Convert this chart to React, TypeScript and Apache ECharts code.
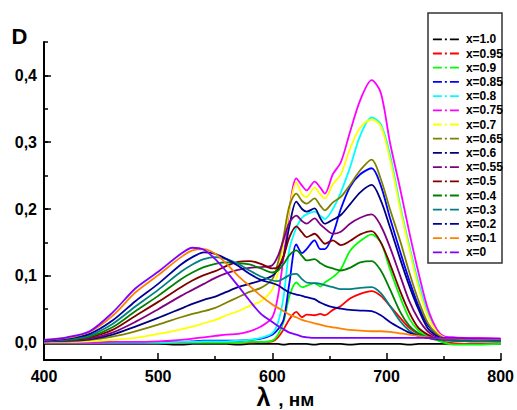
import React, { useEffect, useRef } from 'react';
import * as echarts from 'echarts';

const W = 517;
const H = 410;

// wavelength grid (nm)
const wavelengths = [400, 420, 440, 460, 480, 500, 520, 530, 540, 550, 560, 570, 580, 590, 600, 605, 610, 615, 621, 626, 630, 637, 642, 646, 653, 660, 668, 677, 687, 695, 703, 712, 720, 728, 736, 744, 750, 760, 780, 800];

const seriesNames = ['x=1.0', 'x=0.95', 'x=0.9', 'x=0.85', 'x=0.8', 'x=0.75', 'x=0.7', 'x=0.65', 'x=0.6', 'x=0.55', 'x=0.5', 'x=0.4', 'x=0.3', 'x=0.2', 'x=0.1', 'x=0'];
const seriesColors = ['#000000', '#ff0000', '#00ff00', '#0000ff', '#00ffff', '#ff00ff', '#ffff00', '#808000', '#000080', '#800080', '#800000', '#008000', '#008080', '#0000a0', '#ff8000', '#8000ff'];

const dX100 = [-0.002, -0.002, -0.002, -0.002, -0.002, -0.002, -0.003, -0.002, -0.002, -0.002, -0.002, -0.003, -0.002, -0.002, -0.002, -0.002, -0.003, -0.002, -0.002, -0.002, -0.002, -0.003, -0.002, -0.002, -0.002, -0.002, -0.003, -0.002, -0.002, -0.002, -0.002, -0.002, -0.003, -0.002, -0.002, -0.002, -0.002, -0.002, -0.002, -0.002];
const dX095 = [0, 0, 0, 0, 0, 0, 0, 0, 0, 0, 0, 0, 0, 0.001, 0.002, 0.008, 0.02, 0.035, 0.046, 0.038, 0.042, 0.041, 0.043, 0.041, 0.049, 0.055, 0.066, 0.073, 0.077, 0.07, 0.055, 0.037, 0.022, 0.013, 0.007, 0.004, 0.001, -0.001, -0.002, -0.001];
const dX090 = [0, 0, 0, 0, 0, 0, 0, 0, 0, 0, 0, 0, 0.001, 0.001, 0.003, 0.012, 0.032, 0.07, 0.09, 0.083, 0.085, 0.089, 0.084, 0.09, 0.098, 0.11, 0.137, 0.152, 0.162, 0.15, 0.11, 0.068, 0.036, 0.018, 0.009, 0.004, 0.0, -0.003, -0.003, -0.002];
const dX085 = [0, 0, 0, 0, 0, 0.001, 0.001, 0.002, 0.003, 0.003, 0.003, 0.003, 0.004, 0.006, 0.012, 0.02, 0.035, 0.09, 0.147, 0.134, 0.14, 0.153, 0.14, 0.14, 0.162, 0.2, 0.233, 0.252, 0.261, 0.235, 0.187, 0.136, 0.093, 0.055, 0.027, 0.012, 0.006, 0.003, 0.002, 0.002];
const dX080 = [0, 0, 0, 0, 0, 0, 0.001, 0.001, 0.002, 0.002, 0.002, 0.003, 0.004, 0.007, 0.014, 0.03, 0.07, 0.14, 0.172, 0.187, 0.192, 0.196, 0.19, 0.185, 0.2, 0.225, 0.262, 0.31, 0.337, 0.327, 0.282, 0.205, 0.145, 0.09, 0.045, 0.018, 0.008, 0.004, 0.003, 0.002];
const dX075 = [0, 0, 0, 0.001, 0.001, 0.002, 0.004, 0.006, 0.008, 0.01, 0.012, 0.013, 0.017, 0.024, 0.038, 0.07, 0.13, 0.2, 0.246, 0.235, 0.228, 0.241, 0.232, 0.223, 0.252, 0.27, 0.315, 0.363, 0.393, 0.374, 0.3, 0.23, 0.165, 0.105, 0.052, 0.02, 0.01, 0.008, 0.007, 0.006];
const dX070 = [0.001, 0.001, 0.002, 0.004, 0.007, 0.013, 0.02, 0.024, 0.029, 0.034, 0.041, 0.047, 0.055, 0.062, 0.08, 0.105, 0.15, 0.2, 0.24, 0.222, 0.218, 0.232, 0.222, 0.216, 0.237, 0.252, 0.29, 0.322, 0.334, 0.324, 0.275, 0.2, 0.14, 0.083, 0.04, 0.016, 0.008, 0.004, 0.003, 0.003];
const dX065 = [0.002, 0.002, 0.004, 0.009, 0.017, 0.027, 0.038, 0.043, 0.047, 0.052, 0.06, 0.068, 0.076, 0.082, 0.095, 0.12, 0.16, 0.205, 0.223, 0.212, 0.208, 0.216, 0.205, 0.198, 0.21, 0.218, 0.236, 0.258, 0.274, 0.245, 0.2, 0.152, 0.105, 0.063, 0.03, 0.013, 0.007, 0.004, 0.003, 0.003];
const dX060 = [0.002, 0.003, 0.005, 0.012, 0.024, 0.037, 0.051, 0.058, 0.064, 0.069, 0.076, 0.083, 0.088, 0.093, 0.1, 0.11, 0.13, 0.175, 0.211, 0.2, 0.196, 0.201, 0.186, 0.178, 0.184, 0.191, 0.207, 0.225, 0.236, 0.213, 0.173, 0.125, 0.085, 0.05, 0.022, 0.01, 0.006, 0.004, 0.003, 0.003];
const dX055 = [0.002, 0.003, 0.006, 0.015, 0.031, 0.05, 0.07, 0.079, 0.088, 0.097, 0.104, 0.109, 0.112, 0.113, 0.116, 0.13, 0.155, 0.18, 0.19, 0.182, 0.178, 0.186, 0.177, 0.171, 0.163, 0.166, 0.178, 0.187, 0.192, 0.175, 0.143, 0.1, 0.062, 0.035, 0.017, 0.008, 0.005, 0.004, 0.003, 0.003];
const dX050 = [0.003, 0.004, 0.008, 0.019, 0.04, 0.061, 0.083, 0.093, 0.101, 0.107, 0.115, 0.121, 0.122, 0.118, 0.111, 0.113, 0.13, 0.158, 0.174, 0.165, 0.158, 0.163, 0.155, 0.148, 0.153, 0.146, 0.152, 0.162, 0.167, 0.15, 0.118, 0.077, 0.045, 0.022, 0.012, 0.006, 0.004, 0.003, 0.003, 0.003];
const dX040 = [0.003, 0.004, 0.009, 0.023, 0.047, 0.07, 0.095, 0.105, 0.113, 0.118, 0.12, 0.119, 0.117, 0.111, 0.105, 0.108, 0.118, 0.131, 0.138, 0.13, 0.123, 0.125, 0.119, 0.115, 0.111, 0.108, 0.112, 0.12, 0.122, 0.108, 0.08, 0.046, 0.025, 0.014, 0.008, 0.005, 0.004, 0.003, 0.002, 0.002];
const dX030 = [0.003, 0.005, 0.011, 0.028, 0.054, 0.079, 0.106, 0.117, 0.125, 0.128, 0.125, 0.118, 0.108, 0.099, 0.093, 0.092, 0.096, 0.101, 0.103, 0.095, 0.09, 0.089, 0.088, 0.086, 0.083, 0.08, 0.08, 0.082, 0.083, 0.074, 0.055, 0.032, 0.018, 0.011, 0.007, 0.005, 0.004, 0.003, 0.003, 0.003];
const dX020 = [0.003, 0.006, 0.013, 0.033, 0.062, 0.088, 0.117, 0.128, 0.135, 0.133, 0.125, 0.115, 0.103, 0.094, 0.089, 0.086, 0.08, 0.075, 0.072, 0.07, 0.068, 0.065, 0.06, 0.057, 0.053, 0.051, 0.049, 0.048, 0.047, 0.041, 0.031, 0.022, 0.015, 0.01, 0.007, 0.006, 0.005, 0.005, 0.005, 0.004];
const dX010 = [0.004, 0.007, 0.016, 0.04, 0.075, 0.101, 0.128, 0.138, 0.14, 0.133, 0.118, 0.1, 0.085, 0.07, 0.057, 0.052, 0.047, 0.042, 0.038, 0.034, 0.032, 0.029, 0.027, 0.025, 0.023, 0.021, 0.019, 0.018, 0.017, 0.017, 0.016, 0.014, 0.012, 0.01, 0.008, 0.007, 0.006, 0.006, 0.005, 0.005];
const dX000 = [0.004, 0.008, 0.017, 0.045, 0.081, 0.106, 0.133, 0.142, 0.139, 0.125, 0.106, 0.085, 0.063, 0.043, 0.031, 0.025, 0.02, 0.015, 0.012, 0.009, 0.008, 0.007, 0.007, 0.007, 0.007, 0.007, 0.007, 0.007, 0.007, 0.007, 0.007, 0.007, 0.007, 0.007, 0.007, 0.007, 0.007, 0.007, 0.006, 0.006];

const seriesValues = [dX100, dX095, dX090, dX085, dX080, dX075, dX070, dX065, dX060, dX055, dX050, dX040, dX030, dX020, dX010, dX000];

const xTicks = { min: 400, max: 800, interval: 100 };
const yRange = { min: -0.026, max: 0.45 };
const yMajor = { min: 0, max: 0.4, interval: 0.1 };
const yMinor = { min: 0, max: 0.45, interval: 0.05 };

const FONT = '"Liberation Sans", Arial, sans-serif';

export default function App() {
  const ref = useRef<HTMLDivElement>(null);

  useEffect(() => {
    if (!ref.current) return;
    const chart = echarts.init(ref.current, null, { renderer: 'svg' });

    const plotLeft = 44;
    const plotRight = 16;
    const plotTop = 42;
    const plotBottomPx = 360;
    const pxPer = (plotBottomPx - plotTop) / (yRange.max - yRange.min);
    const zeroPx = plotTop + yRange.max * pxPer;
    const majorTopPx = zeroPx - yMajor.max * pxPer;

    const series = seriesNames.map((name, i) => ({
      name,
      type: 'line',
      xAxisIndex: 0,
      yAxisIndex: 0,
      data: wavelengths.map((w, j) => [w, seriesValues[i][j]]),
      showSymbol: false,
      symbol: 'none',
      smooth: 0.3,
      color: seriesColors[i],
      lineStyle: { width: 1.8, color: seriesColors[i] },
      emphasis: { disabled: true },
    }));

    const option: any = {
      animation: false,
      backgroundColor: '#ffffff',
      grid: [
        { left: plotLeft, right: plotRight, top: plotTop, bottom: H - plotBottomPx },
        { left: plotLeft, right: plotRight, top: majorTopPx, bottom: H - zeroPx },
        { left: plotLeft, right: plotRight, top: plotTop, bottom: H - zeroPx },
      ],
      xAxis: [
        {
          gridIndex: 0,
          type: 'value',
          min: xTicks.min,
          max: xTicks.max,
          interval: xTicks.interval,
          axisLine: { show: true, onZero: false, lineStyle: { color: '#000', width: 2 } },
          axisTick: { show: true, inside: true, length: 7, lineStyle: { color: '#000', width: 1.5 } },
          minorTick: { show: true, splitNumber: 2, length: 4, lineStyle: { color: '#000', width: 1.5 } },
          axisLabel: { color: '#000', fontSize: 16, fontWeight: 'bold', fontFamily: FONT, margin: 8 },
          splitLine: { show: false },
          minorSplitLine: { show: false },
        },
        { gridIndex: 1, type: 'value', min: xTicks.min, max: xTicks.max, show: false },
        { gridIndex: 2, type: 'value', min: xTicks.min, max: xTicks.max, show: false },
      ],
      yAxis: [
        {
          gridIndex: 0,
          type: 'value',
          min: yRange.min,
          max: yRange.max,
          axisLine: { show: true, onZero: false, lineStyle: { color: '#000', width: 2 } },
          axisTick: { show: false },
          axisLabel: { show: false },
          splitLine: { show: false },
        },
        {
          gridIndex: 1,
          type: 'value',
          min: yMajor.min,
          max: yMajor.max,
          interval: yMajor.interval,
          axisLine: { show: false, onZero: false },
          axisTick: { show: true, inside: true, length: 7, lineStyle: { color: '#000', width: 1.5 } },
          axisLabel: {
            color: '#000',
            fontSize: 16,
            fontWeight: 'bold',
            fontFamily: FONT,
            margin: 7,
            formatter: (v: number) => v.toFixed(1).replace('.', ','),
          },
          splitLine: { show: false },
        },
        {
          gridIndex: 2,
          type: 'value',
          min: yMinor.min,
          max: yMinor.max,
          interval: yMinor.interval,
          axisLine: { show: false, onZero: false },
          axisTick: { show: true, inside: true, length: 4, lineStyle: { color: '#000', width: 1.5 } },
          axisLabel: { show: false },
          splitLine: { show: false },
        },
      ],
      legend: {
        data: seriesNames,
        orient: 'vertical',
        left: 432,
        top: 33.3,
        padding: 0,
        itemWidth: 28,
        itemHeight: 12,
        itemGap: 2.2,
        selectedMode: false,
        textStyle: { color: '#000', fontSize: 12, fontWeight: 'bold', fontFamily: FONT, lineHeight: 12 },
        lineStyle: { width: 1.8, type: [9, 3, 2, 3] },
        itemStyle: { opacity: 0 },
      },
      graphic: [
        {
          type: 'rect',
          shape: { x: 428, y: 13, width: 74, height: 250 },
          style: { fill: 'none', stroke: '#333', lineWidth: 1.5 },
          silent: true,
        },
        {
          type: 'text',
          x: 11.5,
          y: 36.4,
          style: { text: 'D', font: `bold 22px ${FONT}`, fill: '#000', align: 'left', verticalAlign: 'middle' },
          silent: true,
        },
        {
          type: 'text',
          x: 263.5,
          y: 396.5,
          style: { text: 'λ', font: `bold 25px ${FONT}`, fill: '#000', align: 'center', verticalAlign: 'middle' },
          silent: true,
        },
        {
          type: 'text',
          x: 273,
          y: 399.5,
          style: { text: ' , нм', font: `bold 19px ${FONT}`, fill: '#000', align: 'left', verticalAlign: 'middle' },
          silent: true,
        },
      ],
      series,
    };

    chart.setOption(option);
    return () => chart.dispose();
  }, []);

  return (
    <div
      ref={ref}
      style={{ position: 'fixed', left: 0, top: 0, width: W, height: H, background: '#fff' }}
    />
  );
}
